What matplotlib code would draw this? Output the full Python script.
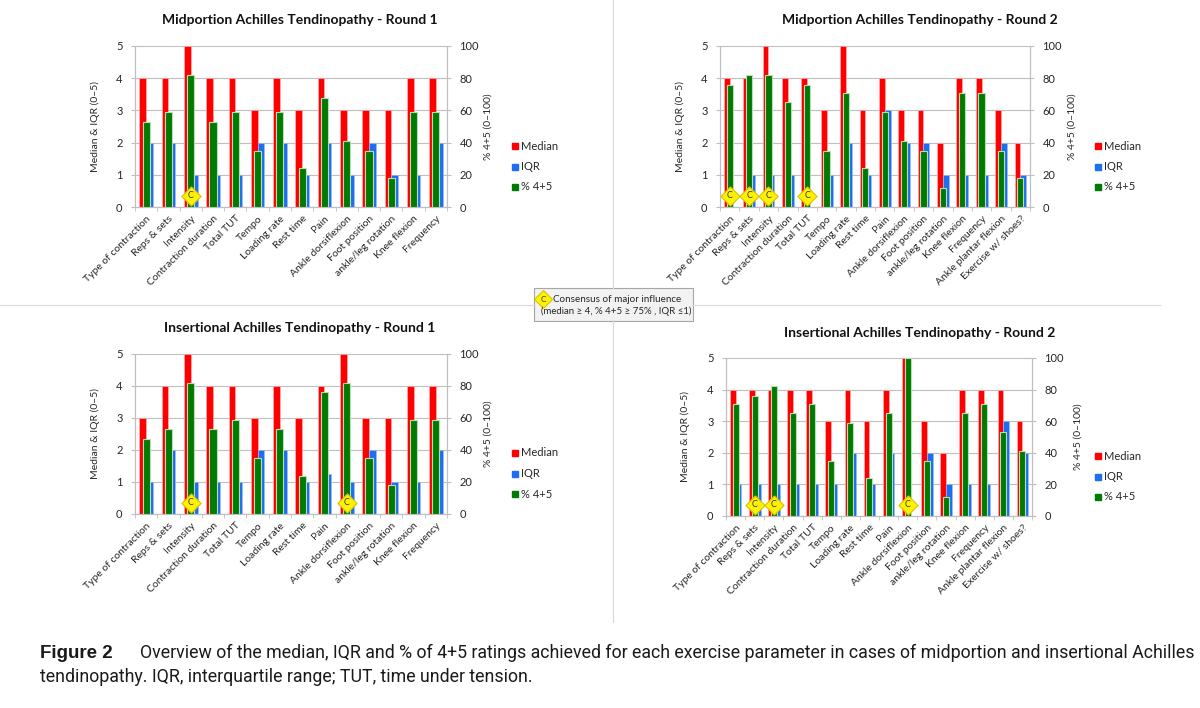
import matplotlib
matplotlib.use("Agg")
import matplotlib.pyplot as plt
from matplotlib.patches import Rectangle
from matplotlib.lines import Line2D
import numpy as np

# ---------------- data ----------------
cats_r1 = ["Type of contraction", "Reps & sets", "Intensity", "Contraction duration",
           "Total TUT", "Tempo", "Loading rate", "Rest time", "Pain",
           "Ankle dorsiflexion", "Foot position", "ankle/leg rotation",
           "Knee flexion", "Frequency"]
cats_r2 = cats_r1 + ["Ankle plantar flexion", "Exercise w/ shoes?"]

mid_r1_median = [4, 4, 5, 4, 4, 3, 4, 3, 4, 3, 3, 3, 4, 4]
mid_r1_iqr = [2, 2, 1, 1, 1, 2, 2, 1, 2, 1, 2, 1, 1, 2]
mid_r1_pct = [53, 59, 82, 53, 59, 35, 59, 24, 68, 41, 35, 18, 59, 59]
mid_r1_cons = ["Intensity"]

mid_r2_median = [4, 4, 5, 4, 4, 3, 5, 3, 4, 3, 3, 2, 4, 4, 3, 2]
mid_r2_iqr = [0, 1, 1, 1, 0, 1, 2, 1, 3, 2, 2, 1, 1, 1, 2, 1]
mid_r2_pct = [76, 82, 82, 65, 76, 35, 71, 24, 59, 41, 35, 12, 71, 71, 35, 18]
mid_r2_cons = ["Type of contraction", "Reps & sets", "Intensity", "Total TUT"]

ins_r1_median = [3, 4, 5, 4, 4, 3, 4, 3, 4, 5, 3, 3, 4, 4]
ins_r1_iqr = [1, 2, 1, 1, 1, 2, 2, 1, 1.25, 1, 2, 1, 1, 2]
ins_r1_pct = [47, 53, 82, 53, 59, 35, 53, 24, 76, 82, 35, 18, 59, 59]
ins_r1_cons = ["Intensity", "Ankle dorsiflexion"]

ins_r2_median = [4, 4, 4, 4, 4, 3, 4, 3, 4, 5, 3, 2, 4, 4, 4, 3]
ins_r2_iqr = [1, 1, 1, 1, 1, 1, 2, 1, 2, 0, 2, 1, 1, 1, 3, 2]
ins_r2_pct = [71, 76, 82, 65, 71, 35, 59, 24, 65, 100, 35, 12, 65, 71, 53, 41]
ins_r2_cons = ["Reps & sets", "Intensity", "Ankle dorsiflexion"]

titles = ["Midportion Achilles Tendinopathy - Round 1",
          "Midportion Achilles Tendinopathy - Round 2",
          "Insertional Achilles Tendinopathy - Round 1",
          "Insertional Achilles Tendinopathy - Round 2"]
series_names = ["Median", "IQR", "% 4+5"]
left_label = "Median & IQR (0\u20135)"
right_label = "% 4+5 (0\u2013100)"
consensus_line1 = "Consensus of major influence"
consensus_line2 = "(median \u2265 4, % 4+5 \u2265 75% , IQR \u22641)"
caption_bold = "Figure 2"
caption_line1 = ("Overview of the median, IQR and % of 4+5 ratings achieved for each exercise "
                 "parameter in cases of midportion and insertional Achilles")
caption_line2 = "tendinopathy. IQR, interquartile range; TUT, time under tension."

# ---------------- style ----------------
W, H = 1200, 708
RED = "#FF0000"
BLUE = "#1E6EF0"
GREEN = "#007A00"
GRID = "#BFBFBF"
TXT = "#262626"
FONT = "Lato"

fig = plt.figure(figsize=(W / 100, H / 100), dpi=100)
fig.patch.set_facecolor("white")


def fx(x):
    return x / W


def fy(y):
    return 1 - y / H


panels = [
    dict(box=(135, 447, 46, 207), cats=cats_r1, med=mid_r1_median, iqr=mid_r1_iqr,
         pct=mid_r1_pct, cons=mid_r1_cons, title=titles[0], title_xy=(300, 20),
         ylab_x=95, rlab_x=488, leg=(515, 146)),
    dict(box=(720, 1030, 46, 207), cats=cats_r2, med=mid_r2_median, iqr=mid_r2_iqr,
         pct=mid_r2_pct, cons=mid_r2_cons, title=titles[1], title_xy=(920, 20),
         ylab_x=680, rlab_x=1072, leg=(1098, 146)),
    dict(box=(135, 447, 354, 514), cats=cats_r1, med=ins_r1_median, iqr=ins_r1_iqr,
         pct=ins_r1_pct, cons=ins_r1_cons, title=titles[2], title_xy=(300, 328),
         ylab_x=95, rlab_x=488, leg=(515, 453)),
    dict(box=(726, 1032, 358, 516), cats=cats_r2, med=ins_r2_median, iqr=ins_r2_iqr,
         pct=ins_r2_pct, cons=ins_r2_cons, title=titles[3], title_xy=(920, 333),
         ylab_x=685, rlab_x=1078, leg=(1098, 456)),
]

for p in panels:
    x0, x1, yt, yb = p["box"]
    ax = fig.add_axes([fx(x0), fy(yb), fx(x1) - fx(x0), (yb - yt) / H])
    ax2 = ax.twinx()
    n = len(p["cats"])
    x = np.arange(n)
    ax.bar(x - 0.15, p["med"], width=0.3, color=RED, edgecolor="#FFB0B0",
           linewidth=0.5, zorder=2)
    ax.bar(x + 0.155, p["iqr"], width=0.31, color=BLUE, edgecolor="#9FC0F8",
           linewidth=0.4, zorder=2)
    ax2.bar(x, p["pct"], width=0.32, color=GREEN, edgecolor="#B7DDB7",
            linewidth=0.8, zorder=3)
    # consensus markers
    for c in p["cons"]:
        i = p["cats"].index(c)
        ax2.scatter([i], [7], marker="D", s=95, color="#FFF200",
                    edgecolor="#D8C200", linewidth=0.8, zorder=5)
        ax2.text(i, 7, "C", ha="center", va="center", fontsize=6.5,
                 family=FONT, color="#333333", zorder=6)

    ax.set_xlim(-0.5, n - 0.5)
    ax.set_ylim(0, 5)
    ax2.set_ylim(0, 100)
    ax.set_yticks(range(6))
    ax2.set_yticks(range(0, 101, 20))
    ax.yaxis.grid(True, color=GRID, linewidth=0.8, zorder=0)
    ax.set_axisbelow(True)
    ax.set_xticks(x)
    ax.set_xticklabels(p["cats"], rotation=45, ha="right", rotation_mode="anchor",
                       fontsize=7.5, family=FONT, color=TXT)
    ax.set_xticks(np.arange(-0.5, n, 1.0), minor=True)
    ax.tick_params(axis="x", which="major", length=0, pad=5)
    ax.tick_params(axis="x", which="minor", length=3, color=GRID)
    ax.tick_params(axis="y", length=3, color=GRID, labelsize=8, labelcolor=TXT, pad=6)
    ax2.tick_params(axis="y", length=3, color=GRID, labelsize=8, labelcolor=TXT, pad=6)
    for a in (ax, ax2):
        for lab in a.get_yticklabels():
            lab.set_family(FONT)
        a.spines["top"].set_visible(False)
        for s in ("left", "right", "bottom"):
            a.spines[s].set_color(GRID)
            a.spines[s].set_linewidth(0.8)

    # titles and axis labels
    fig.text(fx(p["title_xy"][0]), fy(p["title_xy"][1]), p["title"], ha="center",
             va="center", fontsize=10, fontweight="bold", family=FONT, color="#111111")
    fig.text(fx(p["ylab_x"]), fy((yt + yb) / 2), left_label, rotation=90, ha="center",
             va="center", fontsize=7.5, family=FONT, color=TXT)
    fig.text(fx(p["rlab_x"]), fy((yt + yb) / 2), right_label, rotation=90, ha="center",
             va="center", fontsize=7.5, family=FONT, color=TXT)

    # legend
    lx, ly = p["leg"]
    for k, (name, col) in enumerate(zip(series_names, [RED, BLUE, GREEN])):
        yy = ly + k * 20.5
        fig.add_artist(Rectangle((fx(lx - 3), fy(yy + 3)), 6 / W, 6 / H,
                                 transform=fig.transFigure, color=col))
        fig.text(fx(lx + 6), fy(yy), name, ha="left", va="center", fontsize=8,
                 family=FONT, color=TXT)

# divider lines
LC = "#D9D9D9"
fig.add_artist(Line2D([fx(613), fx(613)], [fy(0), fy(288)], color=LC,
                      linewidth=0.8, transform=fig.transFigure))
fig.add_artist(Line2D([fx(613), fx(613)], [fy(320), fy(622)], color=LC,
                      linewidth=0.8, transform=fig.transFigure))
fig.add_artist(Line2D([fx(0), fx(535)], [fy(305), fy(305)], color=LC,
                      linewidth=0.8, transform=fig.transFigure))
fig.add_artist(Line2D([fx(692), fx(1160)], [fy(305), fy(305)], color=LC,
                      linewidth=0.8, transform=fig.transFigure))

# consensus box
fig.add_artist(Rectangle((fx(534), fy(321)), 159 / W, 33 / H, transform=fig.transFigure,
                         facecolor="#F2F2F2", edgecolor="#A6A6A6", linewidth=0.8))
fig.add_artist(Line2D([fx(543)], [fy(299)], marker="D", markersize=9,
                      markerfacecolor="#FFF200", markeredgecolor="#D8C200",
                      markeredgewidth=0.8, transform=fig.transFigure))
fig.text(fx(543), fy(299), "C", ha="center", va="center", fontsize=6, family=FONT,
         color="#333333")
fig.text(fx(553), fy(299), consensus_line1, ha="left", va="center",
         fontsize=7.1, family=FONT, color=TXT)
fig.text(fx(541), fy(311), consensus_line2, ha="left",
         va="center", fontsize=6.9, family=FONT, color=TXT)

# caption
CAP = "#1a1a1a"
fb = fig.text(fx(40), fy(653), caption_bold, ha="left", va="center", fontsize=13.5,
              fontweight="bold", family="Liberation Sans", color=CAP)
t1 = fig.text(fx(140), fy(653), caption_line1, ha="left", va="center", fontsize=12,
              family="Roboto", color=CAP)
t2 = fig.text(fx(40), fy(677), caption_line2, ha="left", va="center", fontsize=12,
              family="Roboto", color=CAP)
fig.canvas.draw()
r = fig.canvas.get_renderer()
w1 = t1.get_window_extent(r).width
scale = (1190 - 140) / w1
t1.set_fontsize(12 * scale)
t2.set_fontsize(12 * scale)

fig.savefig("out.png", dpi=100, facecolor="white")
